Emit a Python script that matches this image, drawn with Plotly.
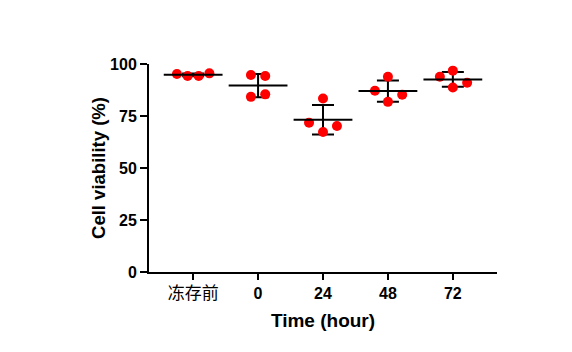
import numpy as np
import plotly.graph_objects as go

categories = ["冻存前", "0", "24", "48", "72"]
values = [
    [95.2, 94.2, 94.2, 95.5],
    [94.7, 94.2, 84.2, 85.4],
    [83.4, 71.8, 67.3, 70.2],
    [93.9, 87.1, 85.2, 81.8],
    [96.8, 93.9, 91.0, 88.7],
]
# horizontal spread of dots within each group (category units)
jitter = [
    [-0.25, -0.085, 0.085, 0.25],
    [-0.11, 0.11, -0.11, 0.11],
    [0.0, -0.215, 0.0, 0.215],
    [0.0, -0.2, 0.22, 0.0],
    [0.0, -0.2, 0.22, 0.0],
]
y_ticks = [0, 25, 50, 75, 100]

FONT = "Arial, Liberation Sans, sans-serif"

fig = go.Figure()

xs, ys = [], []
for i, (vals, jit) in enumerate(zip(values, jitter)):
    for v, j in zip(vals, jit):
        xs.append(i + j)
        ys.append(v)

means = [float(np.mean(v)) for v in values]
sds = [float(np.std(v, ddof=1)) for v in values]
idx = list(range(len(categories)))

# error bars (mean ± SD) with caps
fig.add_trace(go.Scatter(
    x=idx, y=means, mode="markers",
    marker=dict(size=0.1, color="rgba(0,0,0,0)"),
    error_y=dict(type="data", array=sds, visible=True, color="black",
                 thickness=2, width=11),
    showlegend=False, hoverinfo="skip", cliponaxis=False,
))

# dots
fig.add_trace(go.Scatter(
    x=xs, y=ys, mode="markers",
    marker=dict(size=10, color="#ff0000", line=dict(width=0)),
    showlegend=False, cliponaxis=False,
))

# mean lines
fig.add_trace(go.Scatter(
    x=idx, y=means, mode="markers",
    marker=dict(symbol="line-ew", size=42, color="black",
                line=dict(width=2, color="black")),
    showlegend=False, cliponaxis=False,
))

ticktext = ['<span style="font-weight:normal;font-size:17px">%s</span>' % categories[0]] + categories[1:]

fig.update_layout(
    width=572, height=352,
    margin=dict(l=149, r=75, t=64, b=80),
    paper_bgcolor="white", plot_bgcolor="white",
    font=dict(family=FONT, color="black", size=16, weight="bold"),
    xaxis=dict(
        range=[-0.68, 4.68], tickmode="array", tickvals=idx, ticktext=ticktext,
        showline=True, linecolor="black", linewidth=2,
        ticks="outside", ticklen=6, tickwidth=2, tickcolor="black",
        showgrid=False, zeroline=False,
        tickfont=dict(family=FONT + ", Noto Sans CJK SC", size=16, weight="bold"),
        title=dict(text="Time (hour)", font=dict(size=19, weight="bold"), standoff=11),
    ),
    yaxis=dict(
        range=[0, 100], tickmode="array", tickvals=y_ticks,
        showline=True, linecolor="black", linewidth=2,
        ticks="outside", ticklen=7, tickwidth=2, tickcolor="black",
        showgrid=False, zeroline=False,
        tickfont=dict(size=16, weight="bold"),
        title=dict(text="Cell viability (%)", font=dict(size=18.5, weight="bold"), standoff=0),
    ),
)

fig.write_html("out.html")
